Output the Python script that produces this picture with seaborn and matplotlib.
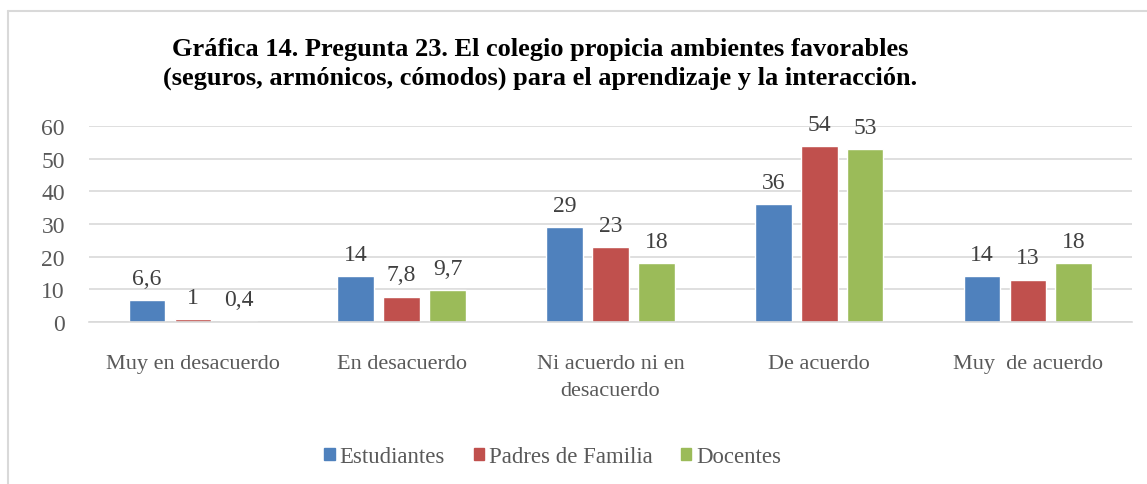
import pandas as pd
import matplotlib
matplotlib.use("Agg")
import matplotlib.pyplot as plt
import seaborn as sns
from matplotlib.lines import Line2D

# Data
categorias = ["Muy en desacuerdo", "En desacuerdo", "Ni acuerdo ni en\ndesacuerdo",
              "De acuerdo", "Muy  de acuerdo"]
estudiantes = [6.6, 14, 29, 36, 14]
padres = [1, 7.8, 23, 54, 13]
docentes = [0.4, 9.7, 18, 53, 18]
grupos = ["Estudiantes", "Padres de Familia", "Docentes"]
colores = ["#4F81BD", "#C0504D", "#9BBB59"]
yticks = [0, 10, 20, 30, 40, 50, 60]

df = pd.DataFrame({
    "categoria": categorias * 3,
    "valor": estudiantes + padres + docentes,
    "grupo": [g for g in grupos for _ in categorias],
})

sns.set_style("white")
plt.rcParams["font.family"] = ["Liberation Serif", "DejaVu Serif"]

fig = plt.figure(figsize=(11.47, 4.85), dpi=100)
ax = fig.add_axes([0.0772, 0.334, 0.910, 0.404])

sns.barplot(data=df, x="categoria", y="valor", hue="grupo", order=categorias,
            hue_order=grupos, palette=colores, width=0.66, gap=0.2,
            saturation=1, ax=ax, legend=False)

# data labels with comma decimals
for cont in ax.containers:
    labs = [f"{b.get_height():g}".replace(".", ",") for b in cont]
    ax.bar_label(cont, labels=labs, padding=8, fontsize=17, color="#404040")

ax.set_ylim(0, 60)
ax.set_yticks(yticks)
ax.set_xlim(-0.5, len(categorias) - 0.5)
ax.yaxis.grid(True, color="#D9D9D9", linewidth=1.2)
ax.set_axisbelow(True)
for s in ["top", "right", "left"]:
    ax.spines[s].set_visible(False)
ax.spines["bottom"].set_color("#D9D9D9")
ax.spines["bottom"].set_linewidth(1.2)
ax.tick_params(axis="x", length=0, labelsize=16, labelcolor="#595959", pad=23)
ax.tick_params(axis="y", length=0, labelsize=17, labelcolor="#595959", pad=17)
for t in ax.get_xticklabels():
    t.set_linespacing(1.55)
ax.set_xlabel("")
ax.set_ylabel("")

fig.text(0.4708, 0.868, "Gráfica 14. Pregunta 23. El colegio propicia ambientes favorables\n"
         "(seguros, armónicos, cómodos) para el aprendizaje y la interacción.",
         ha="center", va="center", fontsize=19, fontweight="bold",
         color="black", linespacing=1.35)

handles = [plt.Rectangle((0, 0), 1, 1, color=c) for c in colores]
fig.legend(handles, grupos, loc="center", bbox_to_anchor=(0.482, 0.056),
           ncol=3, frameon=False, fontsize=16.4, handlelength=0.45,
           handleheight=0.45, handletextpad=0.22, columnspacing=1.25,
           labelcolor="#595959")

# chart border (top and left edges)
fig.add_artist(Line2D([8 / 1147, 8 / 1147], [0, 1 - 12 / 485],
                      transform=fig.transFigure, color="#D9D9D9", linewidth=1.5))
fig.add_artist(Line2D([8 / 1147, 1], [1 - 12 / 485, 1 - 12 / 485],
                      transform=fig.transFigure, color="#D9D9D9", linewidth=1.5))

fig.savefig("out.png", dpi=100)
